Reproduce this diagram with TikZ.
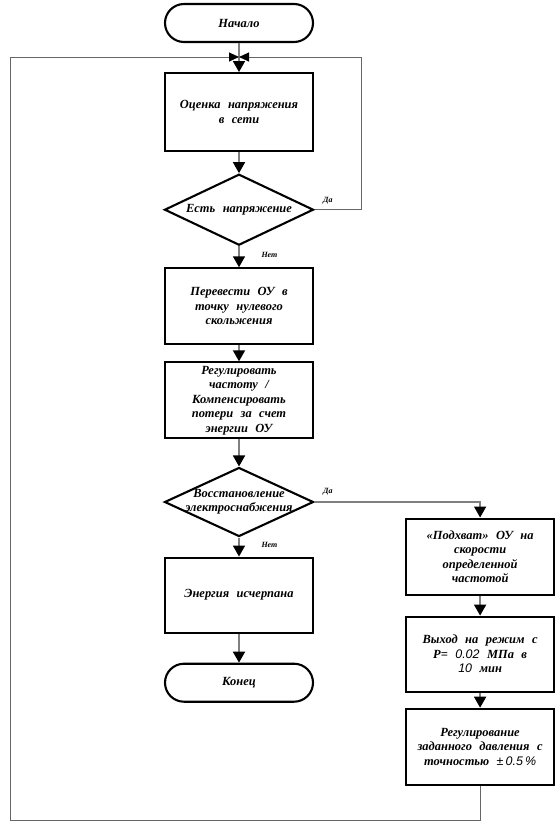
\documentclass[tikz,border=0pt]{standalone}
\usepackage{fontspec}
\setmainfont{Liberation Serif}
\newfontfamily\numfont{Liberation Sans}
\usetikzlibrary{arrows.meta, positioning, shapes.geometric}
\newcommand\widespace{\spaceskip=0.6em\relax}

\begin{document}
\begin{tikzpicture}[
  x=1bp, y=1bp,
  node distance=22bp,
  txt/.style={font=\fontsize{12.5}{14.5}\selectfont\bfseries\itshape, align=center,
              execute at begin node=\widespace},
  box/.style={txt, draw=black, line width=2.1bp, minimum width=148bp,
              minimum height=76bp, text width=142bp, inner sep=0pt},
  term/.style={txt, draw=black, line width=2.1bp, rounded corners=19bp,
               minimum width=148bp, minimum height=38bp, inner sep=0pt},
  dec/.style={draw=black, line width=2.1bp, diamond, minimum width=149bp,
              minimum height=71bp, inner sep=0pt},
  arr/.style={-{Triangle[length=11bp, width=12bp, color=black]}, gray, line width=1.7bp},
  fb/.style={-{Triangle[length=10bp, width=9bp, color=black]}, gray!80!black, line width=0.9bp},
  lbl/.style={font=\fontsize{8}{9}\selectfont\bfseries\itshape}
]
\useasboundingbox (0,0) rectangle (557,-824);
% main column
\node[term] (start) at (239,-23) {Начало};
\node[box, minimum height=78bp, below=29bp of start] (s1) {Оценка напряжения\\в сети};
\node[dec, below=21bp of s1, label={[txt]center:Есть напряжение}] (d1) {};
\node[box, below=21bp of d1] (s2) {Перевести ОУ в\\точку нулевого\\скольжения};
\node[box, below=16bp of s2] (s3) {Регулировать\\частоту /\\Компенсировать\\потери за счет\\энергии ОУ};
\node[dec, minimum height=69bp, below=27bp of s3,
      label={[txt]center:Восстановление\\электроснабжения}] (d2) {};
\node[box, minimum height=75bp, below=19bp of d2] (s4) {Энергия исчерпана};
\node[term, below=29bp of s4] (stop) {Конец};
% right column
\node[box, below right=15.5bp and 90.5bp of d2.east] (r1)
  {«Подхват» ОУ на\\скорости\\определенной\\частотой};
\node[box, minimum height=75bp, below=20bp of r1] (r2)
  {Выход на режим с\\P= {\numfont\mdseries 0.02} МПа в\\{\numfont\mdseries 10} мин};
\node[box, below=15bp of r2] (r3)
  {Регулирование\\заданного давления с\\точностью {\numfont\mdseries ±\,0.5\,\%}};
% connectors
\coordinate (merge) at (start.south |- 0,-57);
\coordinate (lowleft) at (10,-820);
\draw[arr] (start) -- (s1);
\draw[arr] (s1) -- (d1);
\draw[arr] (d1) -- (s2);
\draw[arr] (s2) -- (s3);
\draw[arr] (s3) -- (d2);
\draw[arr] (d2) -- (s4);
\draw[arr] (s4) -- (stop);
\draw[arr] (d2.east) -| (r1.north);
\draw[arr] (r1) -- (r2);
\draw[arr] (r2) -- (r3);
\draw[fb] (d1.east) -- ++(47,0) |- (merge);
\draw[fb] (r3.south) |- (lowleft) |- (merge);
\node[lbl, above right=2bp and 5bp of d1.east] (da1) {Да};
\node[lbl, below right=3bp and 19bp of d1.south] (net1) {Нет};
\node[lbl, above right=3bp and 5bp of d2.east] (da2) {Да};
\node[lbl, below right=1bp and 19bp of d2.south] (net2) {Нет};
\end{tikzpicture}
\end{document}
